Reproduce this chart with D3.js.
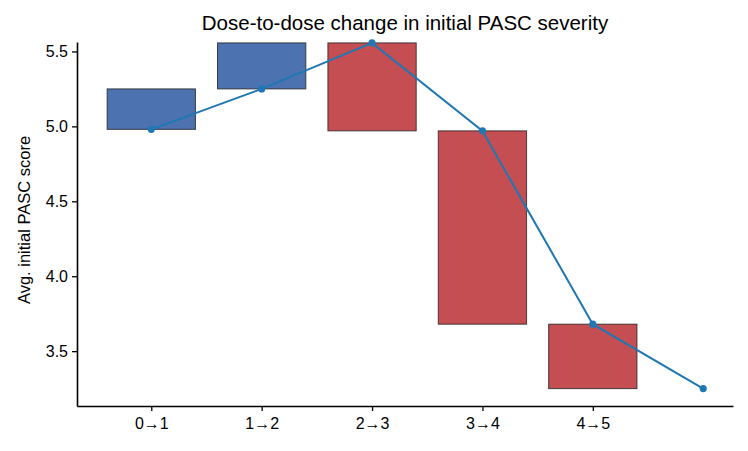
<!DOCTYPE html>
<html>
<head>
<meta charset="utf-8">
<script src="https://cdnjs.cloudflare.com/ajax/libs/d3/7.8.5/d3.min.js"></script>
<style>
  body { margin: 0; background: #fff; }
  text { font-family: "Liberation Sans", Arial, sans-serif; }
</style>
</head>
<body>
<div id="chart"></div>
<script>
// data
var steps = ["0\u21921", "1\u21922", "2\u21923", "3\u21924", "4\u21925"]
var doseLevels = [0, 1, 2, 3, 4, 5]
var avgScore = [4.98, 5.25, 5.557, 4.97, 3.68, 3.25]
var yTicks = [3.5, 4.0, 4.5, 5.0, 5.5]

var W = 748, H = 451
var margin = {top: 42, right: 15, bottom: 45, left: 77}

var svg = d3.select("#chart").append("svg")
    .attr("width", W)
    .attr("height", H)

// x is numeric like matplotlib bar positions
var x = d3.scaleLinear()
    .domain([-0.673, 5.27])
    .range([margin.left, W - margin.right])

var y = d3.scaleLinear()
    .domain([3.134, 5.563])
    .range([H - margin.bottom, margin.top])

var barW = x(0.4) - x(-0.4)

// bars: from score at dose i to score at dose i+1
var bars = steps.map(function(s, i) {
  return {step: s, i: i, from: avgScore[i], to: avgScore[i + 1]}
})

svg.append("g")
  .selectAll("rect")
  .data(bars)
  .enter()
  .append("rect")
    .attr("x", d => x(d.i) - barW / 2)
    .attr("width", barW)
    .attr("y", d => y(Math.max(d.from, d.to)))
    .attr("height", d => Math.abs(y(d.from) - y(d.to)))
    .attr("fill", d => d.to > d.from ? "#4c72b0" : "#c44e52")
    .attr("stroke", "#222")
    .attr("stroke-opacity", 0.8)
    .attr("stroke-width", 1)

// line through the dose averages
var line = d3.line()
    .x((d, i) => x(doseLevels[i]))
    .y(d => y(d))

svg.append("path")
    .datum(avgScore)
    .attr("d", line)
    .attr("fill", "none")
    .attr("stroke", "#1f77b4")
    .attr("stroke-width", 2)

svg.append("g")
  .selectAll("circle")
  .data(avgScore)
  .enter()
  .append("circle")
    .attr("cx", (d, i) => x(doseLevels[i]))
    .attr("cy", d => y(d))
    .attr("r", 3.6)
    .attr("fill", "#1f77b4")

// axes
var xAxis = svg.append("g")
    .attr("transform", "translate(0," + (H - margin.bottom) + ")")
    .call(d3.axisBottom(x)
      .tickValues(d3.range(steps.length))
      .tickFormat(i => steps[i])
      .tickSize(5)
      .tickSizeOuter(0))

var yAxis = svg.append("g")
    .attr("transform", "translate(" + margin.left + ",0)")
    .call(d3.axisLeft(y)
      .tickValues(yTicks)
      .tickFormat(d3.format(".1f"))
      .tickSize(5)
      .tickSizeOuter(0))

svg.selectAll(".domain").attr("stroke", "#000").attr("stroke-width", 1.6)
svg.selectAll(".tick line").attr("stroke", "#000").attr("stroke-width", 1.3)
svg.selectAll(".tick text")
    .style("font-size", "16px")
    .style("font-family", "Liberation Sans, Arial, sans-serif")
    .attr("fill", "#000")
xAxis.selectAll(".tick text").attr("y", 12).attr("dy", "0.71em")
yAxis.selectAll(".tick text").attr("x", -9)

// title + y label
svg.append("text")
    .attr("x", (margin.left + W - margin.right) / 2)
    .attr("y", 30)
    .attr("text-anchor", "middle")
    .style("font-size", "20.5px")
    .text("Dose-to-dose change in initial PASC severity")

svg.append("text")
    .attr("transform", "rotate(-90)")
    .attr("x", -220)
    .attr("y", 30)
    .attr("text-anchor", "middle")
    .style("font-size", "16.5px")
    .text("Avg. initial PASC score")
</script>
</body>
</html>
